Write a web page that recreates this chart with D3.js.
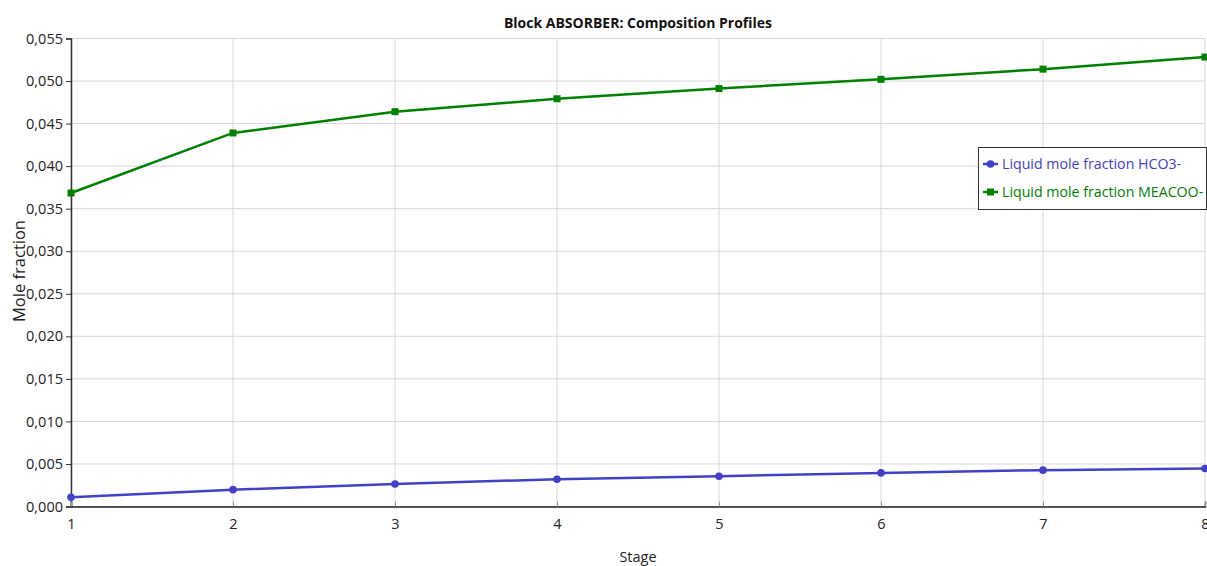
<!DOCTYPE html>
<html>
<head>
<meta charset="utf-8">
<script src="https://cdn.jsdelivr.net/npm/d3@7"></script>
<style>
  html, body { margin: 0; padding: 0; background: #fff; }
  svg { display: block; font-family: "Open Sans", "Noto Sans", sans-serif; }
</style>
</head>
<body>
<svg id="chart" width="1207" height="566"></svg>
<script>
// Stage-wise liquid composition in the absorber column
const stages = [1, 2, 3, 4, 5, 6, 7, 8];
const hco3 = [0.00108, 0.00198, 0.00265, 0.00321, 0.00356, 0.00395, 0.00427, 0.00446];
const meacoo = [0.03684, 0.04390, 0.04640, 0.04792, 0.04912, 0.05020, 0.05140, 0.05282];
const yTicks = [0, 0.005, 0.010, 0.015, 0.020, 0.025, 0.030, 0.035, 0.040, 0.045, 0.050, 0.055];
const seriesNames = ["Liquid mole fraction HCO3-", "Liquid mole fraction MEACOO-"];

const svg = d3.select("#chart");
const m = { left: 71, right: 1205, top: 38.5, bottom: 506.5 };

const x = d3.scaleLinear().domain([1, 8]).range([m.left, m.right]);
const y = d3.scaleLinear().domain([0, 0.055]).range([m.bottom, m.top]);
const fmt = v => d3.format(".3f")(v).replace(".", ",");

// grid
const grid = svg.append("g");
grid.selectAll("line.h").data(yTicks).join("line")
  .attr("x1", m.left).attr("x2", m.right)
  .attr("y1", d => y(d)).attr("y2", d => y(d))
  .attr("stroke", "#d8d8d8").attr("stroke-width", 1);
grid.selectAll("line.v").data(stages).join("line")
  .attr("x1", d => x(d)).attr("x2", d => x(d))
  .attr("y1", m.top).attr("y2", m.bottom)
  .attr("stroke", "#d8d8d8").attr("stroke-width", 1);

// y axis
const yAxis = svg.append("g").attr("transform", `translate(${m.left},0)`)
  .call(d3.axisLeft(y).tickValues(yTicks).tickFormat(fmt).tickSize(5).tickPadding(3));
yAxis.select(".domain").attr("stroke", "#333").attr("stroke-width", 1.5);
yAxis.selectAll(".tick line").attr("stroke", "#333");
yAxis.selectAll(".tick text").attr("fill", "#222").style("font-size", "14.5px")
  .style("font-family", "'Open Sans', sans-serif");

// x axis
const xAxis = svg.append("g").attr("transform", `translate(0,${m.bottom})`)
  .call(d3.axisBottom(x).tickValues(stages).tickFormat(d3.format("d")).tickSize(-5).tickPadding(12));
xAxis.select(".domain").attr("stroke", "#222").attr("stroke-width", 1.5);
xAxis.selectAll(".tick line").attr("stroke", "#999");
xAxis.selectAll(".tick text").attr("fill", "#222").style("font-size", "14.5px")
  .style("font-family", "'Open Sans', sans-serif");

// titles
svg.append("text").attr("x", 638).attr("y", 28).attr("text-anchor", "middle")
  .style("font-size", "14px").style("font-weight", "bold").attr("fill", "#111")
  .style("font-family", "'Open Sans', sans-serif")
  .text("Block ABSORBER: Composition Profiles");
svg.append("text").attr("x", 638).attr("y", 562).attr("text-anchor", "middle")
  .style("font-size", "14.5px").attr("fill", "#222").text("Stage");
svg.append("text").attr("transform", "translate(25,271) rotate(-90)").attr("text-anchor", "middle")
  .style("font-size", "16.5px").attr("fill", "#222").text("Mole fraction");

// series
const blue = "#4040c8", green = "#008000";
const line = d3.line().x((d, i) => x(stages[i])).y(d => y(d));

svg.append("path").datum(hco3).attr("d", line)
  .attr("fill", "none").attr("stroke", blue).attr("stroke-width", 2.5);
svg.append("g").selectAll("circle").data(hco3).join("circle")
  .attr("cx", (d, i) => x(stages[i])).attr("cy", d => y(d)).attr("r", 3.8).attr("fill", blue);

svg.append("path").datum(meacoo).attr("d", line)
  .attr("fill", "none").attr("stroke", green).attr("stroke-width", 2.5);
svg.append("g").selectAll("rect").data(meacoo).join("rect")
  .attr("x", (d, i) => x(stages[i]) - 3.5).attr("y", d => y(d) - 3.5)
  .attr("width", 7).attr("height", 7).attr("fill", green);

// legend
const lg = svg.append("g").attr("transform", "translate(978,147)");
lg.append("rect").attr("x", 0.5).attr("y", 0.5).attr("width", 228).attr("height", 62)
  .attr("fill", "#fff").attr("stroke", "#333").attr("stroke-width", 1);
const colors = [blue, green];
seriesNames.forEach((name, i) => {
  const cy = 17 + i * 28;
  lg.append("line").attr("x1", 5).attr("x2", 20).attr("y1", cy).attr("y2", cy)
    .attr("stroke", colors[i]).attr("stroke-width", 2.5);
  if (i === 0) {
    lg.append("circle").attr("cx", 12.5).attr("cy", cy).attr("r", 3.8).attr("fill", colors[i]);
  } else {
    lg.append("rect").attr("x", 9).attr("y", cy - 3.5).attr("width", 7).attr("height", 7).attr("fill", colors[i]);
  }
  lg.append("text").attr("x", 24).attr("y", cy + 5).style("font-size", "14.2px")
    .attr("fill", colors[i]).text(name);
});
</script>
</body>
</html>
